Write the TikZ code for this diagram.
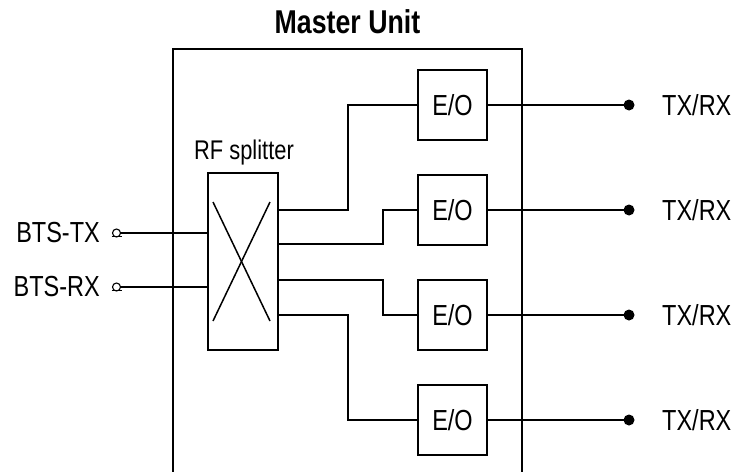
\documentclass[tikz,border=0pt]{standalone}
\usepackage{fontspec}
\setmainfont{Liberation Sans}[FakeStretch=0.81]
\begin{document}
\begin{tikzpicture}[x=1pt,y=-1pt,
  ln/.style={line width=2pt},
  eo/.style={draw,line width=2pt,minimum width=69pt,minimum height=70pt,inner sep=0pt,outer sep=0pt,font=\fontsize{29}{32}\selectfont},
  spl/.style={draw,line width=2pt,minimum width=70pt,minimum height=177pt,inner sep=0pt,outer sep=0pt},
  lbl/.style={inner sep=0pt,font=\fontsize{29}{32}\selectfont},
  term/.style={circle,draw,line width=1.1pt,minimum size=8pt,inner sep=0pt,outer sep=0pt},
  dotn/.style={circle,fill,minimum size=11pt,inner sep=0pt,outer sep=0pt}]
\useasboundingbox (0,0) rectangle (733,471);
% master unit box (open at bottom)
\coordinate (mbl) at (173,472);
\coordinate (mtl) at (173,49);
\coordinate (mtr) at (522,49);
\coordinate (mbr) at (522,472);
\draw[ln] (mbl) -- (mtl) -- (mtr) -- (mbr);
\node[font=\bfseries\fontsize{33}{36}\selectfont] (mu) at (347.5,22) {Master Unit};
% splitter
\node[spl] (sp) at (243,261.5) {};
\draw[line width=1.5pt] ([shift={(5pt,-29pt)}]sp.north west) -- ([shift={(-8pt,29pt)}]sp.south east);
\draw[line width=1.5pt] ([shift={(-8pt,-29pt)}]sp.north east) -- ([shift={(5pt,29pt)}]sp.south west);
\node[lbl,font=\fontsize{27}{30}\selectfont] (rf) at (244,153) {RF splitter};
% inputs
\node[term] (t1) at (116.5,233) {};
\node[term] (t2) at (116.5,287) {};
\draw[line width=1pt] ([xshift=-5pt,yshift=1pt]t1.south) -- ([xshift=5pt,yshift=1pt]t1.south);
\draw[line width=1pt] ([xshift=-5pt,yshift=1pt]t2.south) -- ([xshift=5pt,yshift=1pt]t2.south);
\node[lbl,anchor=east] (btx) at (100,233) {BTS-TX};
\node[lbl,anchor=east] (brx) at (100,287) {BTS-RX};
\draw[ln] (t1.east) -- (t1.east -| sp.west);
\draw[ln] (t2.east) -- (t2.east -| sp.west);
% E/O
\node[eo] (e1) at (452.5,105) {E/O};
\node[eo] (e2) at (452.5,210) {E/O};
\node[eo] (e3) at (452.5,315) {E/O};
\node[eo] (e4) at (452.5,420) {E/O};
% splitter outputs
\coordinate (o1) at (278,210);
\coordinate (o2) at (278,244);
\coordinate (o3) at (278,280);
\coordinate (o4) at (278,315);
\draw[ln] (o1) -| ([xshift=-70pt]e1.west) -- (e1.west);
\draw[ln] (o2) -| ([xshift=-35pt]e2.west) -- (e2.west);
\draw[ln] (o3) -| ([xshift=-35pt]e3.west) -- (e3.west);
\draw[ln] (o4) -| ([xshift=-70pt]e4.west) -- (e4.west);
% outputs
\foreach \i/\y in {1/105,2/210,3/315,4/420}{
  \node[dotn] (d\i) at (629,\y) {};
  \draw[ln] (e\i.east) -- (d\i.center);
  \node[lbl,anchor=west] (tr\i) at (662,\y) {TX/RX};
}
\end{tikzpicture}
\end{document}
